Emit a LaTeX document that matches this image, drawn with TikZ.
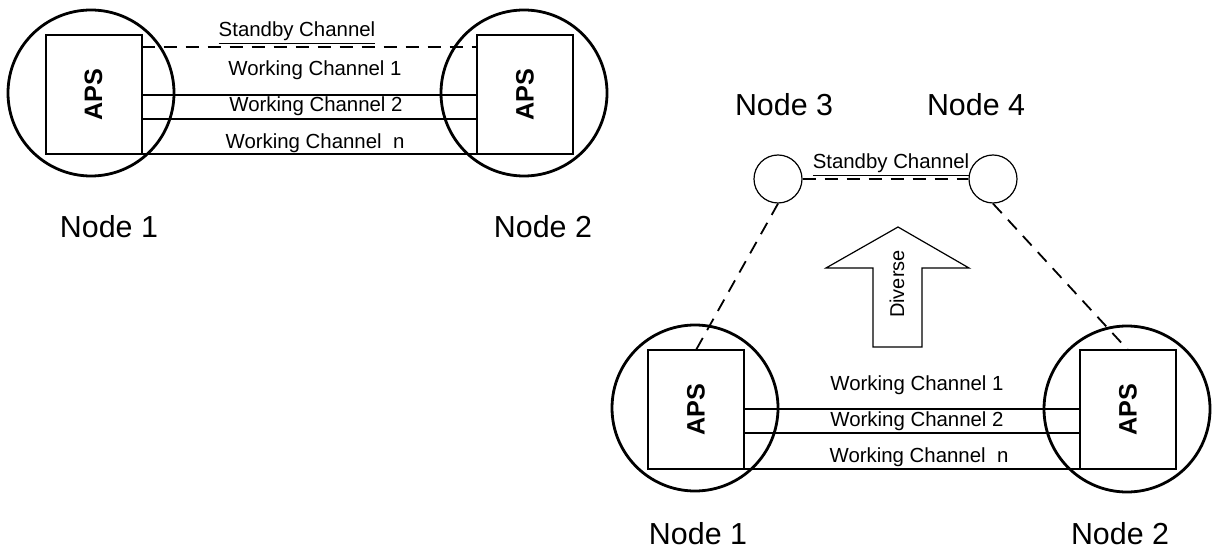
\documentclass[tikz,border=0pt]{standalone}
\usepackage{fontspec}
\setmainfont{Liberation Sans}

\tikzset{
  bigring/.style={circle, draw, line width=1.4pt, minimum size=83pt, inner sep=0pt},
  smallring/.style={circle, draw, line width=0.6pt, minimum size=24pt, inner sep=0pt},
  apsbox/.style={draw, line width=1pt, minimum width=48pt, minimum height=59.5pt,
    inner sep=0pt, outer sep=0pt, font=\fontsize{12.6}{14}\selectfont\bfseries},
  chan/.style={line width=0.9pt},
  spare/.style={line width=0.9pt, dash pattern=on 6.5pt off 4.5pt},
  chanlabel/.style={font=\fontsize{10.2}{12}\selectfont, inner sep=0pt},
  sitelabel/.style={font=\fontsize{15.2}{18}\selectfont, inner sep=0pt},
}

\begin{document}
\begin{tikzpicture}[x=0.5pt, y=-0.5pt]
  \useasboundingbox (0,0) rectangle (1213,550);

  % linear span, standby on the same route
  \node[bigring] (ring1) at (91,93) {};
  \node[bigring] (ring2) at (524,93) {};
  \node[apsbox] (aps1) at (93.5,94.5) {\rotatebox{90}{APS}};
  \node[apsbox] (aps2) at (525,94.5) {\rotatebox{90}{APS}};

  \draw[spare] (aps1.east |- 0,47) -- (aps2.west |- 0,47);
  \draw[chan] (aps1.east |- 0,95) -- (aps2.west |- 0,95);
  \draw[chan] (aps1.east |- 0,119) -- (aps2.west |- 0,119);
  \draw[chan] (aps1.south east) -- (aps2.south west);

  \node[chanlabel] (sb1) at (297,33) {\underline{Standby Channel}};
  \node[chanlabel] (wa1) at (315,70) {Working Channel 1};
  \node[chanlabel] (wa2) at (316,106) {Working Channel 2};
  \node[chanlabel] (wan) at (315,143) {Working Channel\ \ n};

  \node[sitelabel] (lab1) at (109,227) {Node 1};
  \node[sitelabel] (lab2) at (543,227) {Node 2};

  % standby rerouted through nodes 3 and 4
  \node[bigring] (ring5) at (695,408) {};
  \node[bigring] (ring6) at (1127,409) {};
  \node[apsbox] (aps5) at (696,409.5) {\rotatebox{90}{APS}};
  \node[apsbox] (aps6) at (1128,409.5) {\rotatebox{90}{APS}};
  \node[smallring] (ring3) at (778,179) {};
  \node[smallring] (ring4) at (993,179) {};

  \draw[spare] (ring3.east) -- (ring4.west);
  \draw[spare] (ring3.south) -- (aps5.north);
  \draw[spare] (ring4.south) -- (aps6.north);

  \draw[chan] (aps5.east |- 0,409) -- (aps6.west |- 0,409);
  \draw[chan] (aps5.east |- 0,433) -- (aps6.west |- 0,433);
  \draw[chan] (aps5.south east) -- (aps6.south west);

  \node[chanlabel] (sb2) at (891,165) {\underline{Standby Channel}};
  \node[chanlabel] (wb1) at (917,385) {Working Channel 1};
  \node[chanlabel] (wb2) at (917,421) {Working Channel 2};
  \node[chanlabel] (wbn) at (919,457) {Working Channel\ \ n};

  \node[sitelabel] (lab3) at (784,105) {Node 3};
  \node[sitelabel] (lab4) at (976,105) {Node 4};
  \node[sitelabel] (lab5) at (698,534) {Node 1};
  \node[sitelabel] (lab6) at (1120,534) {Node 2};

  % block arrow
  \draw[line width=0.6pt] (898,227) -- (969,268) -- (922,268) -- (922,347)
    -- (873,347) -- (873,268) -- (826,268) -- cycle;
  \node[chanlabel, font=\fontsize{10}{12}\selectfont, rotate=90] (div) at (897,284) {Diverse};
\end{tikzpicture}
\end{document}
